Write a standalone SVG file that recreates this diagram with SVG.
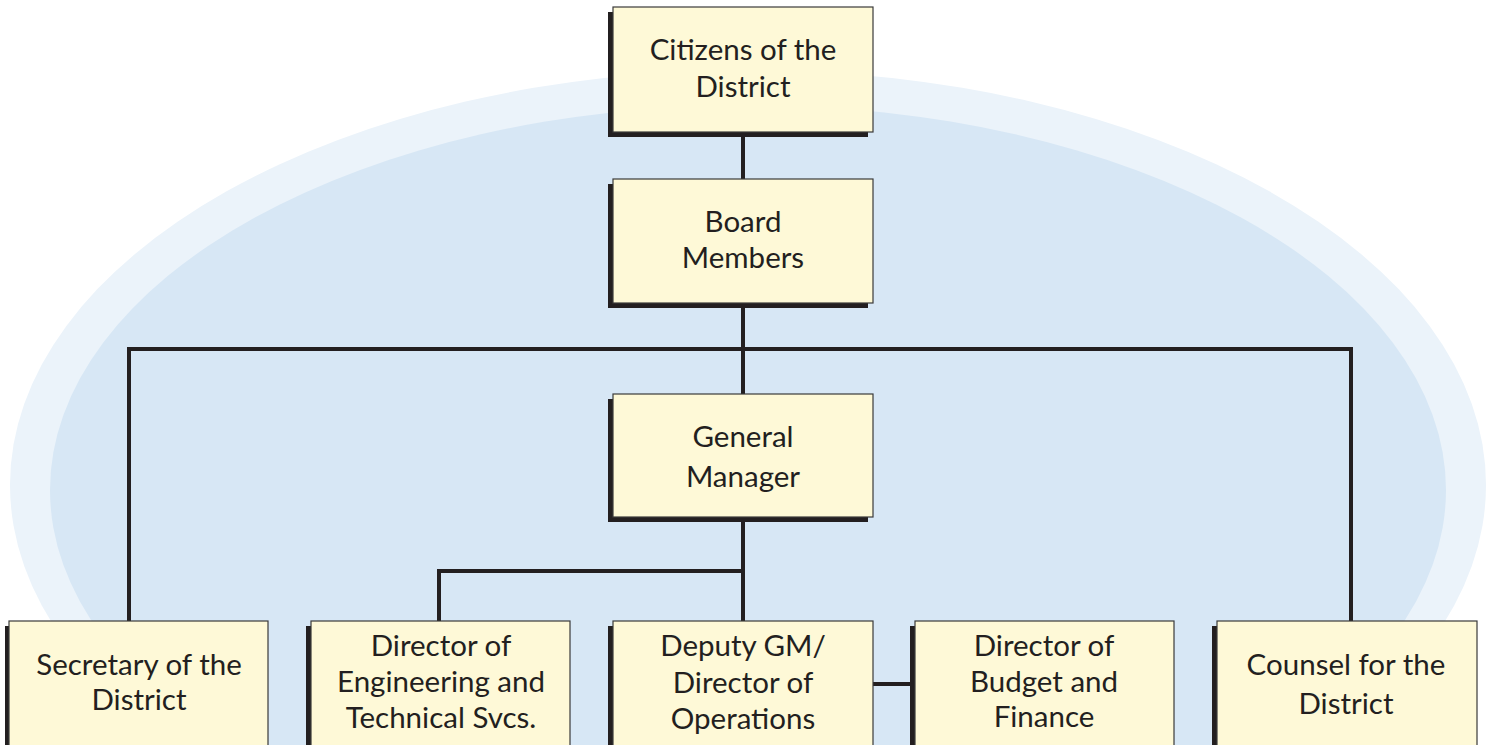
<svg xmlns="http://www.w3.org/2000/svg" width="1486" height="745" viewBox="0 0 1486 745">
<style>
.box{fill:#FEF9D7;stroke:#3a3a3a;stroke-width:1.2}
.sh{fill:#231F20}
.t{font-family:Lato,"Open Sans","Liberation Sans",sans-serif;font-size:29.5px;fill:#231F20;text-anchor:middle}
.c{fill:none;stroke:#231F20;stroke-width:4;stroke-linecap:butt;stroke-linejoin:miter}
</style>
<rect width="1486" height="745" fill="#ffffff"/>
<g id="background">
<ellipse cx="748" cy="485" rx="738" ry="415" fill="#EBF3FA"/>
<ellipse cx="748" cy="490" rx="698" ry="385" fill="#D7E7F5"/>
</g>
<g id="connectors">
<path class="c" d="M743,132 V179"/>
<path class="c" d="M743,303 V394"/>
<path class="c" d="M129,621 V349 H1351 V621"/>
<path class="c" d="M743,517 V621"/>
<path class="c" d="M439,621 V571 H743"/>
<path class="c" d="M872,684 H912"/>
</g>
<g id="citizens">
<rect class="sh" x="608" y="12" width="260" height="125"/>
<rect class="box" x="613" y="7" width="260" height="125"/>
<text class="t" x="743" y="60">Citizens of the</text>
<text class="t" x="743" y="97">District</text>
</g>
<g id="board">
<rect class="sh" x="608" y="184" width="260" height="124"/>
<rect class="box" x="613" y="179" width="260" height="124"/>
<text class="t" x="743" y="232">Board</text>
<text class="t" x="743" y="268">Members</text>
</g>
<g id="general-manager">
<rect class="sh" x="608" y="399" width="260" height="123"/>
<rect class="box" x="613" y="394" width="260" height="123"/>
<text class="t" x="743" y="447">General</text>
<text class="t" x="743" y="487">Manager</text>
</g>
<g id="secretary">
<rect class="sh" x="5" y="626" width="259" height="130"/>
<rect class="box" x="9" y="621" width="259" height="130"/>
<text class="t" x="139" y="675">Secretary of the</text>
<text class="t" x="139" y="710">District</text>
</g>
<g id="director-engineering">
<rect class="sh" x="306" y="626" width="259" height="130"/>
<rect class="box" x="311" y="621" width="259" height="130"/>
<text class="t" x="441" y="656">Director of</text>
<text class="t" x="441" y="692">Engineering and</text>
<text class="t" x="441" y="728">Technical Svcs.</text>
</g>
<g id="deputy-gm">
<rect class="sh" x="608" y="626" width="260" height="130"/>
<rect class="box" x="613" y="621" width="260" height="130"/>
<text class="t" x="743" y="656">Deputy GM/</text>
<text class="t" x="743" y="693">Director of</text>
<text class="t" x="743" y="729">Operations</text>
</g>
<g id="director-budget">
<rect class="sh" x="910" y="626" width="259" height="130"/>
<rect class="box" x="915" y="621" width="259" height="130"/>
<text class="t" x="1044" y="656">Director of</text>
<text class="t" x="1044" y="692">Budget and</text>
<text class="t" x="1044" y="727">Finance</text>
</g>
<g id="counsel">
<rect class="sh" x="1212" y="626" width="260" height="130"/>
<rect class="box" x="1217" y="621" width="260" height="130"/>
<text class="t" x="1346" y="675">Counsel for the</text>
<text class="t" x="1346" y="714">District</text>
</g>
</svg>
